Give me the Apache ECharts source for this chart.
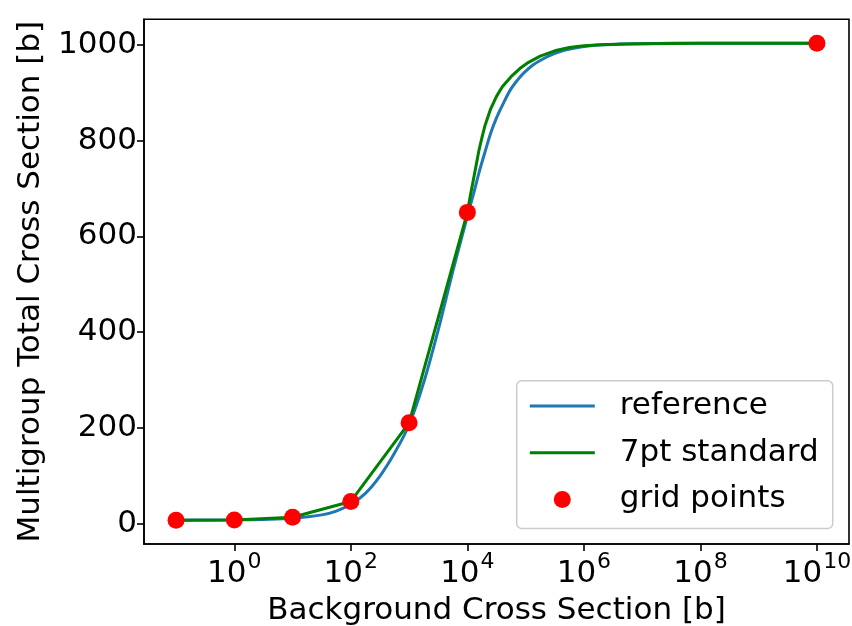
<!DOCTYPE html>
<html>
<head>
<meta charset="utf-8">
<script src="https://cdn.jsdelivr.net/npm/echarts@6/dist/echarts.min.js"></script>
<style>
html,body{margin:0;padding:0;background:#fff;}
#chart{width:852px;height:626px;}
</style>
</head>
<body>
<div id="chart"></div>
<script>
// x values are log10 of the background cross section [b]
const xTickExponents = [0, 2, 4, 6, 8, 10];
const yTickValues = [0, 200, 400, 600, 800, 1000];

const refLog10Sigma0 = [-1, -0.5, 0, 0.5, 1, 1.5, 1.75, 2, 2.25, 2.5, 2.75, 3, 3.25, 3.5, 3.75, 4, 4.1, 4.2, 4.3, 4.4, 4.5, 4.62, 4.74, 4.86, 4.97, 5.12, 5.28, 5.47, 5.66, 5.85, 6.04, 6.3, 6.6, 7, 7.5, 8, 9, 10];
const refSigmaT = [8, 8.2, 8.6, 9.6, 12, 19, 27, 41, 64, 100, 148, 207, 295, 405, 527, 642, 686, 733, 775, 815, 847, 878, 906, 926, 941, 957, 969, 980, 988, 993, 996.5, 999.5, 1001, 1002, 1002.6, 1003, 1003, 1003];

const std7Log10Sigma0 = [-1, 0, 1, 2, 3, 4, 4.05, 4.1, 4.15, 4.2, 4.25, 4.3, 4.4, 4.5, 4.6, 4.75, 4.9, 5.05, 5.25, 5.5, 5.75, 6.0, 6.4, 7, 8, 10];
const std7SigmaT = [8, 8.5, 14, 47, 211, 650, 684, 716, 748, 780, 806, 830, 866, 892, 912, 933, 950, 963, 976, 987, 994, 997.5, 1000, 1002, 1003, 1003];

const gridLog10Sigma0 = [-1, 0, 1, 2, 3, 4, 10];
const gridSigmaT = [8, 8.5, 14, 47, 211, 650, 1003];

const FONT = 'DejaVu Sans';
const zip = (xs, ys) => xs.map((x, i) => [x, ys[i]]);

const chart = echarts.init(document.getElementById('chart'), null, {renderer: 'canvas'});
chart.setOption({
  animation: false,
  backgroundColor: '#ffffff',
  grid: {left: 144, right: 3, top: 19.3, bottom: 82, containLabel: false, outerBoundsMode: 'none',
         show: true, borderColor: '#000', borderWidth: 1.6, backgroundColor: 'transparent'},
  xAxis: {
    type: 'value', min: -1.55, max: 10.55,
    name: 'Background Cross Section [b]', nameLocation: 'middle', nameGap: 51,
    nameTextStyle: {fontFamily: FONT, fontSize: 31, color: '#000'},
    axisLine: {show: true, onZero: false, lineStyle: {color: '#000', width: 1.6}},
    axisTick: {show: true, inside: false, length: 7, lineStyle: {color: '#000', width: 1.6}, customValues: xTickExponents},
    axisLabel: {
      show: true, margin: 7, color: '#000', fontFamily: FONT, customValues: xTickExponents,
      formatter: v => '{b|10}{s|' + v + '}',
      rich: {
        b: {fontFamily: FONT, fontSize: 31, color: '#000', lineHeight: 38, verticalAlign: 'bottom'},
        s: {fontFamily: FONT, fontSize: 22, color: '#000', lineHeight: 38, verticalAlign: 'top', padding: [0, 0, 0, 1]}
      }
    },
    splitLine: {show: false}
  },
  yAxis: {
    type: 'value', min: -41.75, max: 1052.75,
    name: 'Multigroup Total Cross Section [b]', nameLocation: 'middle', nameGap: 98, nameRotate: 90,
    nameTextStyle: {fontFamily: FONT, fontSize: 31, color: '#000'},
    axisLine: {show: true, onZero: false, lineStyle: {color: '#000', width: 1.6}},
    axisTick: {show: true, inside: false, length: 7, lineStyle: {color: '#000', width: 1.6}, customValues: yTickValues},
    axisLabel: {show: true, margin: 7, color: '#000', fontFamily: FONT, fontSize: 31, customValues: yTickValues,
                formatter: v => String(v)},
    splitLine: {show: false}
  },
  legend: {
    orient: 'vertical', left: 516.7, top: 380.7,
    itemWidth: 65, itemHeight: 17, itemGap: 14.7,
    padding: [9.3, 14, 13, 11.6],
    borderColor: '#cccccc', borderWidth: 1.5, borderRadius: 5,
    backgroundColor: 'rgba(255,255,255,0.8)',
    textStyle: {fontFamily: FONT, fontSize: 31, color: '#000', lineHeight: 32, padding: [0, 0, 0, 20]},
    data: [
      {name: 'reference', itemStyle: {opacity: 0}, lineStyle: {opacity: 1, width: 3, color: '#1f77b4'}},
      {name: '7pt standard', itemStyle: {opacity: 0}, lineStyle: {opacity: 1, width: 3, color: '#008000'}},
      {name: 'grid points'}
    ]
  },
  series: [
    {name: 'reference', type: 'line', data: zip(refLog10Sigma0, refSigmaT), smooth: 0.35, symbol: 'none', lineStyle: {color: '#1f77b4', width: 3}, itemStyle: {color: '#1f77b4'}, z: 2, emphasis: {disabled: true}},
    {name: '7pt standard', type: 'line', data: zip(std7Log10Sigma0, std7SigmaT), smooth: false, symbol: 'none', lineStyle: {color: '#008000', width: 3}, itemStyle: {color: '#008000'}, z: 3, emphasis: {disabled: true}},
    {name: 'grid points', type: 'scatter', data: zip(gridLog10Sigma0, gridSigmaT), symbol: 'circle', symbolSize: 17, itemStyle: {color: '#ff0000', opacity: 1}, z: 4, emphasis: {disabled: true}}
  ]
});
</script>
</body>
</html>
